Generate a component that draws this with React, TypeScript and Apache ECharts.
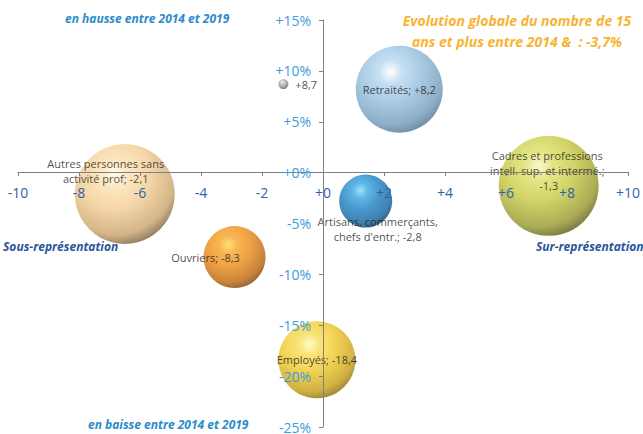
import React, { useEffect, useRef } from "react";
import * as echarts from "echarts";

// Categories (socio-professional groups)
const categories = [
  "Retraités",
  "Autres personnes sans\nactivité prof",
  "Ouvriers",
  "Artisans, commerçants,\nchefs d'entr.",
  "Cadres et professions intell. sup. et intermé.",
  "Employés",
  "",
];
// Over/under-representation (x) and evolution 2014-2019 in % (y)
const representation = [2.5, -6.5, -2.9, 1.4, 7.4, -0.2, -1.3];
const evolution = [8.2, -2.1, -8.3, -2.8, -1.3, -18.4, 8.7];
// Relative bubble weights
const weights = [87, 100, 62, 53, 100, 77, 10];

const xTicks = { min: -10, max: 10, step: 2 };
const yTicks = { min: -25, max: 15, step: 5 };

const palettes = [
  ["#FFFFFF", "#B6D8F0", "#94BEDC", "#6F99B9", "#3F5F78"],
  ["#FFFCE6", "#FBE0B0", "#F3CC92", "#C9A26B", "#4F3B1E"],
  ["#FFDA5E", "#F6A528", "#EB8A18", "#B9650A", "#5A2E02"],
  ["#7FE0FF", "#3AA6E0", "#1A80C2", "#11609A", "#072C4A"],
  ["#F6F8C0", "#DDE067", "#C5C942", "#94982A", "#3C3D0C"],
  ["#FFF7BE", "#F8DD55", "#EFC72A", "#C49E12", "#6A5205"],
  ["#FFFFFF", "#C8C8C8", "#A4A4A4", "#747474", "#3E3E3E"],
];

const fmtNum = (v: number) => {
  const s = Math.abs(v).toFixed(1).replace(".", ",");
  return (v >= 0 ? "+" : "-") + s;
};

const labelConfigs: any[] = [
  { position: "inside" },
  { position: "inside", offset: [-19, -23] },
  { position: "inside", offset: [-29, 0] },
  { position: "inside", offset: [12, 28] },
  { position: "inside", offset: [0, -15], width: 126, overflow: "break" },
  { position: "inside" },
  { position: "right", distance: 7 },
];

const GRID = { left: 18, right: 15, top: 20, bottom: 6 };
const W = 643;
const H = 434;

export default function App() {
  const ref = useRef<HTMLDivElement>(null);
  useEffect(() => {
    if (!ref.current) return;
    const chart = echarts.init(ref.current, null, { renderer: "svg" });
    const data = categories.map((name, i) => ({
      name,
      value: [representation[i], evolution[i], weights[i]],
      itemStyle: {
        color: {
          type: "radial",
          x: 0.4,
          y: 0.3,
          r: 0.78,
          colorStops: [
            { offset: 0, color: palettes[i][0] },
            { offset: 0.18, color: palettes[i][1] },
            { offset: 0.45, color: palettes[i][2] },
            { offset: 0.78, color: palettes[i][3] },
            { offset: 1, color: palettes[i][4] },
          ],
        },
      },
      label: {
        show: true,
        color: "#1C1C1C",
        textBorderWidth: 0,
        textBorderColor: "transparent",
        fontFamily: "Open Sans",
        fontSize: 11,
        lineHeight: 15,
        align: "center",
        ...labelConfigs[i],
        ...(i === 6 ? { align: "left" } : {}),
      },
    }));

    // offsets that put each axis at the other's zero
    const plotW = W - GRID.left - GRID.right;
    const plotH = H - GRID.top - GRID.bottom;
    const zeroXFrac = (0 - xTicks.min) / (xTicks.max - xTicks.min);
    const zeroYFrac = (0 - yTicks.min) / (yTicks.max - yTicks.min);
    const xAxisOffset = -plotH * zeroYFrac;
    const yAxisOffset = -plotW * zeroXFrac;

    const textStyle = (color: string, size = 12) => ({
      fill: color,
      font: `italic bold ${size}px "Open Sans"`,
    });

    chart.setOption({
      animation: false,
      grid: GRID,
      xAxis: {
        type: "value",
        min: xTicks.min,
        max: xTicks.max,
        interval: xTicks.step,
        position: "bottom",
        offset: xAxisOffset,
        z: 5,
        splitLine: { show: false },
        axisLine: { onZero: false, lineStyle: { color: "#808080" } },
        axisTick: { show: true, length: 4, lineStyle: { color: "#808080" } },
        axisLabel: {
          margin: 13,
          color: "#2F62A8",
          fontFamily: "Open Sans",
          fontSize: 14,
          showMinLabel: true,
          showMaxLabel: true,
          formatter: (v: number) => (v >= 0 ? "+" + v : "" + v),
        },
      },
      yAxis: {
        type: "value",
        min: yTicks.min,
        max: yTicks.max,
        interval: yTicks.step,
        position: "left",
        offset: yAxisOffset,
        z: 5,
        splitLine: { show: false },
        axisLine: { onZero: false, lineStyle: { color: "#808080" } },
        axisTick: { show: true, length: 4, lineStyle: { color: "#808080" } },
        axisLabel: {
          margin: 12,
          color: "#3A9DDA",
          fontFamily: "Open Sans",
          fontSize: 14,
          formatter: (v: number) => (v >= 0 ? "+" + v + "%" : v + "%"),
        },
      },
      series: [
        {
          type: "scatter",
          z: 2,
          symbolSize: (val: number[]) => val[2],
          data,
          label: {
            formatter: (p: any) => `${p.name}; ${fmtNum(p.value[1])}`.replace(/^; /, ""),
          },
        },
      ],
      graphic: [
        {
          type: "text",
          left: 65,
          top: 12,
          style: { text: "en hausse entre 2014 et 2019", ...textStyle("#2B8BCB") },
        },
        {
          type: "text",
          left: 88,
          top: 418,
          style: { text: "en baisse entre 2014 et 2019", ...textStyle("#2B8BCB") },
        },
        {
          type: "text",
          left: 3,
          top: 240,
          style: { text: "Sous-représentation", ...textStyle("#2A5599") },
        },
        {
          type: "text",
          left: 536,
          top: 240,
          style: { text: "Sur-représentation", ...textStyle("#2A5599") },
        },
        {
          type: "text",
          x: 517,
          y: 10,
          style: {
            text: "Evolution globale du nombre de 15\nans et plus entre 2014 &  : -3,7%",
            ...textStyle("#F8B332", 14),
            align: "center",
            lineHeight: 21,
          },
        },
      ],
    });
    return () => chart.dispose();
  }, []);
  return (
    <div
      ref={ref}
      style={{ position: "fixed", left: 0, top: 0, width: W, height: H, background: "#fff" }}
    />
  );
}
